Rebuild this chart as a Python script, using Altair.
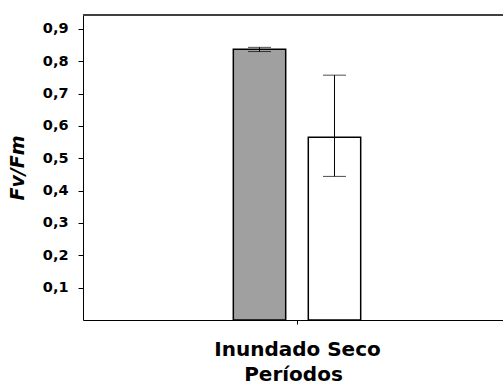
import altair as alt
import pandas as pd

# Fv/Fm by period (mean with lower / upper error limits)
periodos = ["Inundado", "Seco"]
fv_fm = [0.837, 0.565]
limite_inferior = [0.830, 0.444]
limite_superior = [0.843, 0.757]
rotulo_grupo = "Inundado Seco"
y_ticks = [0.1, 0.2, 0.3, 0.4, 0.5, 0.6, 0.7, 0.8, 0.9]

df = pd.DataFrame({
    "periodo": periodos,
    "fvfm": fv_fm,
    "inf": limite_inferior,
    "sup": limite_superior,
})

# plot geometry (in plot-fraction units along x)
W, H = 420, 305
CENTRO = 0.5
DESLOC = 0.0876
MEIA = 0.0612
XMAX = W / 428
YMAX = 0.943
FONT = "DejaVu Sans"

base = alt.Chart(df).transform_calculate(
    xc=f"{CENTRO} + (datum.periodo == 'Inundado' ? -1 : 1) * {DESLOC}",
).transform_calculate(
    x0=f"datum.xc - {MEIA}",
    x1=f"datum.xc + {MEIA}",
)

xscale = alt.Scale(domain=[0, XMAX], nice=False, zero=False)
yscale = alt.Scale(domain=[0, YMAX], nice=False)

x_axis = alt.Axis(
    values=[CENTRO],
    labelExpr=f"'{rotulo_grupo}'",
    title="Períodos",
    grid=False,
    domainColor="black",
    domainWidth=1,
    tickColor="black",
    tickSize=4,
    labelFont=FONT,
    labelFontSize=20,
    labelFontWeight="bold",
    labelColor="black",
    labelPadding=15,
    labelOverlap=False,
    titleFont=FONT,
    titleFontSize=20,
    titleFontWeight="bold",
    titleColor="black",
    titlePadding=5,
)

y_axis = alt.Axis(
    values=y_ticks,
    labelExpr="replace(format(datum.value, '.1f'), '.', ',')",
    title="Fv/Fm",
    grid=False,
    domainColor="black",
    domainWidth=1,
    tickColor="black",
    tickSize=5,
    labelFont=FONT,
    labelFontSize=14.5,
    labelFontWeight="bold",
    labelColor="black",
    labelPadding=10,
    labelOverlap=False,
    labelBound=False,
    titleFont=FONT,
    titleFontSize=19,
    titleFontWeight="bold",
    titleFontStyle="italic",
    titleColor="black",
    titlePadding=15,
)

bars = base.mark_bar(stroke="black", strokeWidth=1.5).encode(
    x=alt.X("x0:Q", scale=xscale, axis=x_axis),
    x2="x1:Q",
    y=alt.Y("fvfm:Q", scale=yscale, axis=y_axis),
    y2=alt.datum(0),
    fill=alt.Fill("periodo:N",
                  scale=alt.Scale(domain=periodos, range=["#a0a0a0", "#ffffff"]),
                  legend=None),
)

whisker = base.mark_rule(color="black", strokeWidth=1).encode(
    x=alt.X("xc:Q", scale=xscale, axis=x_axis),
    y=alt.Y("inf:Q", scale=yscale, axis=y_axis),
    y2="sup:Q",
)

cap_top = base.mark_tick(color="black", orient="horizontal", size=23, thickness=1).encode(
    x=alt.X("xc:Q", scale=xscale, axis=x_axis),
    y=alt.Y("sup:Q", scale=yscale, axis=y_axis),
)

cap_bottom = base.mark_tick(color="black", orient="horizontal", size=23, thickness=1).encode(
    x=alt.X("xc:Q", scale=xscale, axis=x_axis),
    y=alt.Y("inf:Q", scale=yscale, axis=y_axis),
)

top_frame = alt.Chart(pd.DataFrame({"k": [0]})).mark_rule(
    color="#404040", strokeWidth=2
).encode(
    x=alt.value(0),
    x2=alt.value(W),
    y=alt.value(0),
)

chart = alt.layer(bars, whisker, cap_top, cap_bottom, top_frame).properties(
    width=W,
    height=H,
    autosize=alt.AutoSizeParams(type="none"),
    padding={"left": 83, "top": 15, "right": 0, "bottom": 65},
).configure_view(stroke=None).configure(background="white")

chart.save("out.html", embed_options={"renderer": "svg", "actions": False})
